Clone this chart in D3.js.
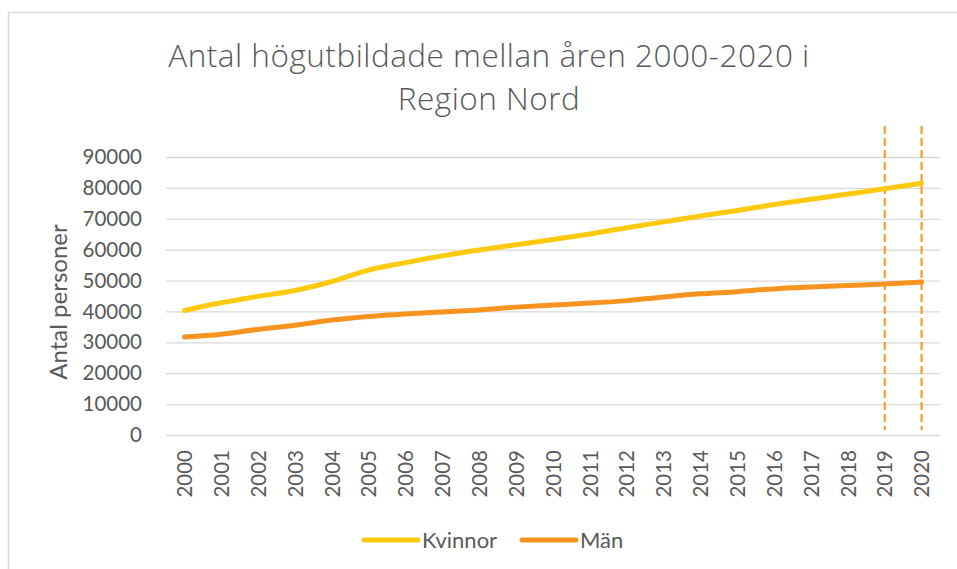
<!DOCTYPE html>
<html>
<head>
<meta charset="utf-8">
<script src="https://cdn.jsdelivr.net/npm/d3@7"></script>
<style>
  body { margin: 0; background: #fff; }
  svg { display: block; font-family: Lato, "Open Sans", sans-serif; }
</style>
</head>
<body>
<div id="chart"></div>
<script>
// data
const years = d3.range(2000, 2021).map(String);
const kvinnor = [40300, 42800, 44900, 46800, 49700, 53400, 55800, 58000, 59900, 61600,
                 63300, 65100, 67100, 69000, 70900, 72700, 74600, 76300, 78000, 79700, 81500];
const man = [31700, 32600, 34200, 35500, 37200, 38400, 39200, 39800, 40500, 41400,
             42100, 42700, 43500, 44700, 45700, 46400, 47300, 47900, 48400, 48900, 49500];
const seriesNames = ["Kvinnor", "Män"];
const yTicks = d3.range(0, 90001, 10000);
const markerYears = ["2019", "2020"];
const titleLines = ["Antal högutbildade mellan åren 2000-2020 i", "Region Nord"];

const W = 957, H = 569;
const margin = {top: 157, right: 17, bottom: 134, left: 166},
  width = W - margin.left - margin.right,
  height = H - margin.top - margin.bottom;

const colors = {Kvinnor: "#ffc90e", "Män": "#f7931e"};
const textColor = "#595959";

const svg = d3.select("#chart")
  .append("svg")
  .attr("width", W)
  .attr("height", H);

// chart frame
svg.append("rect")
  .attr("x", 8.5).attr("y", 12.5)
  .attr("width", W + 20).attr("height", H + 20)
  .attr("fill", "none")
  .attr("stroke", "#d9d9d9")
  .attr("stroke-width", 1.5);

// title, one text per line
svg.selectAll(".title")
  .data(titleLines)
  .join("text")
  .attr("class", "title")
  .attr("x", 489)
  .attr("y", (d, i) => 67 + i * 43)
  .attr("text-anchor", "middle")
  .style("font-family", "'Open Sans', sans-serif")
  .style("font-size", "31.5px")
  .style("font-weight", 300)
  .style("letter-spacing", "0.5px")
  .style("fill", textColor)
  .text(d => d);

const g = svg.append("g")
  .attr("transform", "translate(" + margin.left + "," + margin.top + ")");

const x = d3.scalePoint()
  .domain(years)
  .range([0, width])
  .padding(0.5);

const y = d3.scaleLinear()
  .domain([0, 90000])
  .range([height, 0]);

// Y axis + gridlines
const yAxis = g.append("g")
  .call(d3.axisLeft(y).tickValues(yTicks).tickSize(-width).tickPadding(24).tickFormat(d3.format("d")));
yAxis.select(".domain").remove();
yAxis.selectAll(".tick line").attr("stroke", "#d9d9d9").attr("stroke-width", 1.3);
yAxis.selectAll(".tick text")
  .style("font-size", "20.5px")
  .style("font-family", "Lato, sans-serif")
  .attr("fill", textColor);

// X axis
const xAxis = g.append("g")
  .attr("transform", "translate(0," + height + ")")
  .call(d3.axisBottom(x).tickSize(0));
xAxis.select(".domain").remove();
xAxis.selectAll(".tick text")
  .style("font-size", "20.5px")
  .style("font-family", "Lato, sans-serif")
  .attr("fill", textColor)
  .attr("text-anchor", "end")
  .attr("transform", "rotate(-90)")
  .attr("x", -15)
  .attr("y", 0)
  .attr("dy", "0.35em");

// Y axis title
svg.append("text")
  .attr("transform", "translate(67," + (margin.top + height / 2 + 6) + ") rotate(-90)")
  .attr("text-anchor", "middle")
  .style("font-size", "24px")
  .style("fill", textColor)
  .text("Antal personer");

// dashed markers
g.selectAll(".marker")
  .data(markerYears)
  .join("line")
  .attr("class", "marker")
  .attr("x1", d => x(d)).attr("x2", d => x(d))
  .attr("y1", y(100000)).attr("y2", y(1500))
  .attr("stroke", "#f7931e")
  .attr("stroke-width", 2)
  .attr("stroke-dasharray", "8,4");

// lines
const series = [
  {name: "Kvinnor", values: kvinnor},
  {name: "Män", values: man}
];
const line = d3.line()
  .x((d, i) => x(years[i]))
  .y(d => y(d))
  .curve(d3.curveMonotoneX);

g.selectAll(".series")
  .data(series)
  .join("path")
  .attr("class", "series")
  .attr("fill", "none")
  .attr("stroke", d => colors[d.name])
  .attr("stroke-width", 5)
  .attr("stroke-linecap", "round")
  .attr("stroke-linejoin", "round")
  .attr("d", d => line(d.values));

// legend
const legendPos = [362, 520];
const legend = svg.selectAll(".legend")
  .data(seriesNames)
  .join("g")
  .attr("class", "legend")
  .attr("transform", (d, i) => "translate(" + legendPos[i] + ",540)");
legend.append("line")
  .attr("x1", 2).attr("x2", 56)
  .attr("stroke", d => colors[d])
  .attr("stroke-width", 5)
  .attr("stroke-linecap", "round");
legend.append("text")
  .attr("x", 60)
  .attr("dy", "0.35em")
  .style("font-size", "22px")
  .style("fill", textColor)
  .text(d => d);
</script>
</body>
</html>
